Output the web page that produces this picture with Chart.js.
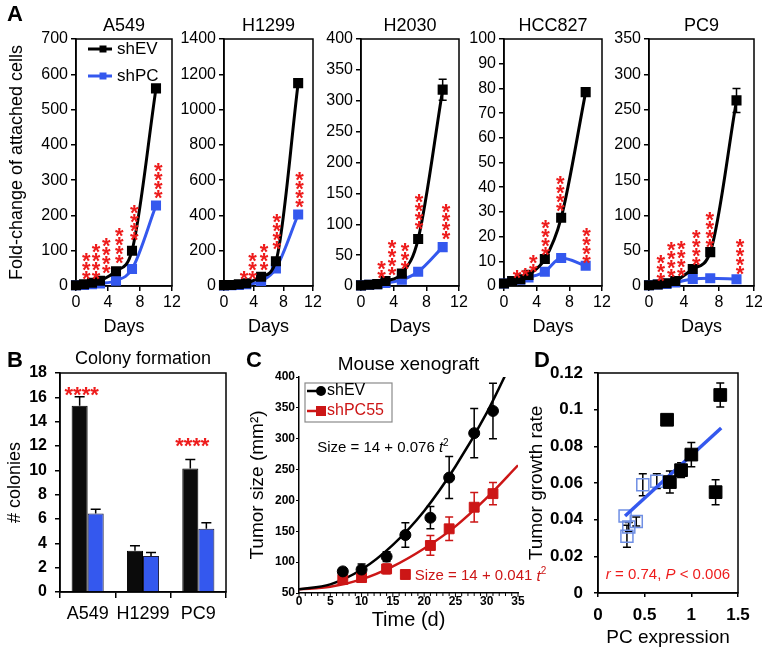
<!DOCTYPE html>
<html>
<head>
<meta charset="utf-8">
<title>PC knockdown and growth</title>
<script src="https://cdn.jsdelivr.net/npm/chart.js@4.4.1/dist/chart.umd.min.js"></script>
<style>
  html, body { margin: 0; padding: 0; background: #fff; }
  body { position: relative; width: 762px; height: 662px; overflow: hidden; font-family: "Liberation Sans", Arial, sans-serif; }
  canvas { position: absolute; }
  .tag { position: absolute; font-weight: bold; font-size: 22px; line-height: 22px; color: #000; }
</style>
</head>
<body>
<canvas id="pA549" width="185" height="340" style="left:0;top:0"></canvas>
<canvas id="pH1299" width="145" height="340" style="left:180px;top:0"></canvas>
<canvas id="pH2030" width="150" height="340" style="left:320px;top:0"></canvas>
<canvas id="pHCC827" width="150" height="340" style="left:465px;top:0"></canvas>
<canvas id="pPC9" width="152" height="340" style="left:610px;top:0"></canvas>
<canvas id="colony" width="240" height="322" style="left:0;top:340px"></canvas>
<canvas id="xeno" width="320" height="322" style="left:240px;top:340px"></canvas>
<canvas id="corr" width="242" height="322" style="left:520px;top:340px"></canvas>
<div class="tag" style="left:7px;top:3px">A</div>
<div class="tag" style="left:7px;top:349px">B</div>
<div class="tag" style="left:246px;top:349px">C</div>
<div class="tag" style="left:534px;top:349px">D</div>
<script>
// ---- panel A: growth curves (fold-change of attached cells) ----
const days = [0, 1, 2, 3, 5, 7, 10];

const a549EV = [2, 5, 9, 15, 42, 100, 560];
const a549PC = [2, 3, 5, 7, 15, 48, 228];
const a549EVErr = [0, 0, 0, 0, 0, 0, 10];
const a549PCErr = [0, 0, 0, 0, 0, 0, 5];
const a549StarX = [1.3, 2.5, 3.8, 5.4, 7.3, 10.3];
const a549StarN = [3, 4, 4, 4, 4, 4];
const a549StarBase = [37, 37, 54, 82, 147, 265];

const h1299EV = [5, 6, 10, 16, 52, 140, 1150];
const h1299PC = [3, 4, 6, 10, 28, 100, 405];
const h1299EVErr = [0, 0, 0, 0, 0, 0, 15];
const h1299PCErr = [0, 0, 0, 0, 0, 0, 10];
const h1299StarX = [2.7, 3.85, 5.4, 7.1, 10.2];
const h1299StarN = [1, 3, 3, 4, 4];
const h1299StarBase = [73, 73, 124, 243, 482];

const h2030EV = [1, 2, 3, 8, 20, 76, 318];
const h2030PC = [1, 2, 3, 5, 10, 23, 63];
const h2030EVErr = [0, 0, 0, 0, 1, 4, 17];
const h2030PCErr = [0, 0, 0, 0, 0, 2, 6];
const h2030StarX = [2.5, 3.8, 5.4, 7.1, 10.4];
const h2030StarN = [2, 4, 3, 4, 4];
const h2030StarBase = [23, 27, 37, 102, 85];

const hcc827EV = [1, 2, 2.7, 4.5, 10.9, 27.6, 78.5];
const hcc827PC = [1, 2, 2.5, 3.5, 5.8, 11.3, 8.2];
const hcc827EVErr = [0, 0, 0, 0, 0.8, 1, 1.5];
const hcc827PCErr = [0, 0, 0, 0, 0, 0.5, 0.5];
const hcc827StarX = [1.6, 2.6, 3.6, 5.1, 6.9, 10.1];
const hcc827StarN = [1, 1, 2, 4, 4, 4];
const hcc827StarBase = [5.4, 6.4, 8.2, 15, 32.7, 11.8];

const pc9EV = [1, 2, 4, 7, 24, 48, 263];
const pc9PC = [1, 2, 3, 5, 10, 11, 9.5];
const pc9EVErr = [0, 0, 0, 0, 0, 0, 17];
const pc9PCErr = [0, 0, 0, 0, 0, 0, 1];
const pc9StarX = [1.35, 2.55, 3.7, 5.4, 6.95, 10.4];
const pc9StarN = [3, 4, 4, 4, 4, 4];
const pc9StarBase = [15, 21, 22, 38, 64, 25];

// ---- panel B: colony formation ----
const colonyLines = ["A549", "H1299", "PC9"];
const colonyEV = [15.3, 3.4, 10.15];
const colonyPC = [6.45, 2.95, 5.2];
const colonyEVErr = [0.75, 0.4, 0.75];
const colonyPCErr = [0.35, 0.3, 0.5];
const colonyStarN = [4, 0, 4];
const colonyStarLevel = [16.7, 0, 12.5];

// ---- panel C: mouse xenograft ----
const xenoDays = [7, 10, 14, 17, 21, 24, 28, 31];
const xenoEV = [85, 88, 109, 144, 172, 237, 309, 345];
const xenoEVErr = [6, 9, 8, 20, 18, 34, 40, 45];
const xenoPC = [72, 75, 89, 80, 127, 154, 189, 211];
const xenoPCErr = [4, 5, 8, 5, 16, 19, 24, 18];
const fitDays = [0, 5, 10, 15, 20, 25, 30, 35];
const fitEV = [56, 64, 88, 128, 183, 255, 342, 446];
const fitPC = [56, 60, 72, 93, 122, 158, 204, 257];

// ---- panel D: growth rate vs PC expression ----
const pcHigh = [0.74, 1.31, 1.0, 0.89, 0.77, 1.26];
const rateHigh = [0.0945, 0.108, 0.0755, 0.067, 0.0605, 0.055];
const rateHighErr = [0, 0.0066, 0.0066, 0.004, 0.006, 0.0068];
const pcLow = [0.48, 0.63, 0.29, 0.41, 0.33, 0.31];
const rateLow = [0.059, 0.061, 0.042, 0.039, 0.036, 0.031];
const rateLowErr = [0.006, 0.004, 0, 0.0025, 0.0025, 0.006];
const trendX = [0.29, 1.32];
const trendY = [0.042, 0.090];

const FONT = "'Liberation Sans', Arial, Helvetica, sans-serif";
const NARROW = "'Liberation Sans Narrow', 'Liberation Sans', Arial, sans-serif";
const BLUE = "#3458ee";
const RED = "#ee1c1c";
const DARKRED = "#cc1616";

Chart.defaults.font.family = FONT;
Chart.defaults.color = "#000";

const axisLine = { color: "#000", width: 1.5 };
const tickGrid = len => ({ drawOnChartArea: false, color: "#000", lineWidth: 1.5, tickLength: len });
const xy = (xs, ys) => xs.map((x, i) => ({ x: x, y: ys[i] }));
const plain = v => String(+Number(v).toFixed(3));

// draws +/- error bars under the marks
const errorBars = {
  id: "errorBars",
  beforeDatasetsDraw(chart) {
    const ctx = chart.ctx;
    chart.data.datasets.forEach((ds, di) => {
      if (!ds.errors) return;
      const meta = chart.getDatasetMeta(di);
      const ys = chart.scales[meta.yAxisID];
      ctx.save();
      ctx.strokeStyle = ds.errorColor || "#000";
      ctx.lineWidth = ds.errorWidth || 1.5;
      meta.data.forEach((el, i) => {
        const e = ds.errors[i];
        if (!e) return;
        const raw = ds.data[i];
        const v = typeof raw === "object" ? raw.y : raw;
        const top = ys.getPixelForValue(v + e);
        const bot = ds.errorUpOnly ? el.y : ys.getPixelForValue(v - e);
        const c = ds.errorCap || 4;
        ctx.beginPath();
        ctx.moveTo(el.x, top); ctx.lineTo(el.x, bot);
        ctx.moveTo(el.x - c, top); ctx.lineTo(el.x + c, top);
        if (!ds.errorUpOnly) { ctx.moveTo(el.x - c, bot); ctx.lineTo(el.x + c, bot); }
        ctx.stroke();
      });
      ctx.restore();
    });
  }
};

// closed box round the plot area
const frame = {
  id: "frame",
  beforeDatasetsDraw(chart, args, o) {
    if (!o.on) return;
    const { ctx, chartArea: a } = chart;
    ctx.save();
    ctx.strokeStyle = "#000";
    ctx.lineWidth = 1.5;
    ctx.strokeRect(a.left, a.top, a.right - a.left, a.bottom - a.top);
    ctx.restore();
  }
};

const panelTitle = {
  id: "panelTitle",
  afterDraw(chart, args, o) {
    if (!o.text) return;
    const { ctx, chartArea: a } = chart;
    ctx.save();
    ctx.font = o.font;
    ctx.fillStyle = "#000";
    ctx.textAlign = "center";
    ctx.textBaseline = "middle";
    ctx.fillText(o.text, (a.left + a.right) / 2 + (o.dx || 0), a.top - o.dy);
    ctx.restore();
  }
};

// vertical stacks of significance asterisks
const starMarks = {
  id: "starMarks",
  afterDatasetsDraw(chart, args, o) {
    if (!o.x) return;
    const { ctx, scales } = chart;
    ctx.save();
    ctx.fillStyle = RED;
    ctx.font = "bold " + o.size + "px " + FONT;
    ctx.textAlign = "center";
    ctx.textBaseline = "alphabetic";
    o.x.forEach((xv, i) => {
      const px = scales.x.getPixelForValue(xv);
      const py = scales.y.getPixelForValue(o.base[i]);
      for (let k = 0; k < o.n[i]; k++) {
        ctx.fillText("*", px, py - k * o.gap + o.size * 0.58);
      }
    });
    ctx.restore();
  }
};

// horizontal asterisks above bars
const barStars = {
  id: "barStars",
  afterDatasetsDraw(chart, args, o) {
    if (!o.n) return;
    const { ctx, scales } = chart;
    const meta = chart.getDatasetMeta(0);
    ctx.save();
    ctx.fillStyle = RED;
    ctx.font = "bold " + o.size + "px " + FONT;
    ctx.textAlign = "center";
    ctx.textBaseline = "alphabetic";
    o.n.forEach((n, i) => {
      if (!n) return;
      const px = meta.data[i].x + 2;
      const py = scales.y.getPixelForValue(o.level[i]);
      ctx.fillText("*".repeat(n), px, py + o.size * 0.58);
    });
    ctx.restore();
  }
};

// hand-placed legend with line + marker
const lineLegend = {
  id: "lineLegend",
  afterDatasetsDraw(chart, args, o) {
    if (!o.items) return;
    const { ctx, chartArea: a } = chart;
    ctx.save();
    if (o.box) {
      ctx.strokeStyle = "#8a8a8a";
      ctx.lineWidth = 1.2;
      ctx.strokeRect(a.left + o.box[0], a.top + o.box[1], o.box[2], o.box[3]);
    }
    o.items.forEach((it, i) => {
      const y = a.top + o.y + i * o.gap;
      ctx.strokeStyle = it.color;
      ctx.fillStyle = it.color;
      ctx.lineWidth = o.lineWidth;
      ctx.beginPath();
      ctx.moveTo(a.left + o.x0, y);
      ctx.lineTo(a.left + o.x1, y);
      ctx.stroke();
      const mx = a.left + o.xm;
      ctx.beginPath();
      if (it.style === "circle") ctx.arc(mx, y, it.size / 2, 0, Math.PI * 2);
      else ctx.rect(mx - it.size / 2, y - it.size / 2, it.size, it.size);
      ctx.fill();
      ctx.font = o.font;
      ctx.textBaseline = "middle";
      ctx.textAlign = "left";
      ctx.fillStyle = it.textColor || "#000";
      ctx.fillText(it.label, a.left + o.xt, y);
    });
    ctx.restore();
  }
};

// rich text notes placed in data coordinates
const notes = {
  id: "notes",
  afterDatasetsDraw(chart, args, o) {
    if (!o.list) return;
    const { ctx, scales } = chart;
    o.list.forEach(n => {
      let px = scales.x.getPixelForValue(n.x);
      const py = scales.y.getPixelForValue(n.y);
      ctx.save();
      ctx.fillStyle = n.color;
      ctx.textBaseline = "middle";
      ctx.textAlign = "left";
      let w = 0;
      n.parts.forEach(p => { ctx.font = p.font; w += ctx.measureText(p.t).width; });
      if (n.align === "center") px -= w / 2;
      n.parts.forEach(p => {
        ctx.font = p.font;
        ctx.fillText(p.t, px, py + (p.dy || 0));
        px += ctx.measureText(p.t).width;
      });
      ctx.restore();
    });
  }
};

// minor + major tick marks along the bottom axis
const minorTicks = {
  id: "minorTicks",
  beforeDatasetsDraw(chart, args, o) {
    if (!o.step) return;
    const { ctx, chartArea: a, scales } = chart;
    const x = scales.x;
    ctx.save();
    ctx.strokeStyle = "#000";
    ctx.lineWidth = 1;
    ctx.beginPath();
    for (let v = x.min; v <= x.max + 1e-9; v += o.step) {
      const px = x.getPixelForValue(v);
      const len = Math.round(v) % o.major === 0 ? o.majorLen : o.minorLen;
      ctx.moveTo(px, a.bottom);
      ctx.lineTo(px, a.bottom + len);
    }
    ctx.stroke();
    ctx.restore();
  }
};

// ---------- panel A ----------
const topPanels = [
  { id: "pA549", name: "A549", ev: a549EV, pc: a549PC, evErr: a549EVErr, pcErr: a549PCErr, max: 700, step: 100,
    sx: a549StarX, sn: a549StarN, sb: a549StarBase, yw: 76, pr: 13, first: true },
  { id: "pH1299", name: "H1299", ev: h1299EV, pc: h1299PC, evErr: h1299EVErr, pcErr: h1299PCErr, max: 1400, step: 200,
    sx: h1299StarX, sn: h1299StarN, sb: h1299StarBase, yw: 44, pr: 12 },
  { id: "pH2030", name: "H2030", ev: h2030EV, pc: h2030PC, evErr: h2030EVErr, pcErr: h2030PCErr, max: 400, step: 50,
    sx: h2030StarX, sn: h2030StarN, sb: h2030StarBase, yw: 41, pr: 11 },
  { id: "pHCC827", name: "HCC827", ev: hcc827EV, pc: hcc827PC, evErr: hcc827EVErr, pcErr: hcc827PCErr, max: 100, step: 10,
    sx: hcc827StarX, sn: hcc827StarN, sb: hcc827StarBase, yw: 39, pr: 13 },
  { id: "pPC9", name: "PC9", ev: pc9EV, pc: pc9PC, evErr: pc9EVErr, pcErr: pc9PCErr, max: 350, step: 50,
    sx: pc9StarX, sn: pc9StarN, sb: pc9StarBase, yw: 39, pr: 4 }
];

const growthLine = {
  borderWidth: 3, pointStyle: "rect", pointRadius: 5, pointHoverRadius: 5,
  cubicInterpolationMode: "monotone", clip: false, fill: false, errorCap: 4
};

topPanels.forEach(p => {
  new Chart(document.getElementById(p.id), {
    type: "line",
    data: {
      datasets: [
        { label: "shEV", data: xy(days, p.ev), borderColor: "#000", backgroundColor: "#000", errors: p.evErr, ...growthLine },
        { label: "shPC", data: xy(days, p.pc), borderColor: BLUE, backgroundColor: BLUE, errors: p.pcErr, errorColor: "#000", ...growthLine }
      ]
    },
    options: {
      responsive: false,
      animation: false,
      events: [],
      layout: { padding: { top: 39, right: p.pr, left: 0, bottom: 0 } },
      plugins: {
        legend: { display: false },
        tooltip: { enabled: false },
        frame: { on: true },
        panelTitle: { text: p.name, font: "18px " + FONT, dy: 13 },
        starMarks: { x: p.sx, n: p.sn, base: p.sb, size: 22, gap: 9 },
        lineLegend: p.first ? {
          items: [
            { label: "shEV", color: "#000", style: "rect", size: 7 },
            { label: "shPC", color: BLUE, style: "rect", size: 7 }
          ],
          x0: 12, x1: 36, xm: 27, xt: 41, y: 10, gap: 27, lineWidth: 3, font: "17px " + FONT
        } : {}
      },
      scales: {
        x: {
          type: "linear", min: 0, max: 12,
          ticks: { stepSize: 4, font: { size: 16 }, padding: 2, maxRotation: 0, minRotation: 0, callback: plain },
          grid: tickGrid(5),
          border: axisLine,
          title: { display: true, text: "Days", font: { size: 18 }, padding: { top: 0, bottom: 2 } },
          afterFit: s => { s.height = 54; s.paddingLeft = 0; s.paddingRight = 0; }
        },
        y: {
          min: 0, max: p.max,
          ticks: { stepSize: p.step, font: { size: 16 }, padding: 3, callback: plain },
          grid: tickGrid(5),
          border: axisLine,
          title: p.first
            ? { display: true, text: "Fold-change of attached cells", font: { size: 18 }, padding: { top: 6, bottom: 0 } }
            : { display: false },
          afterFit: s => { s.width = p.yw; s.paddingTop = 0; s.paddingBottom = 0; }
        }
      }
    },
    plugins: [errorBars, frame, panelTitle, starMarks, lineLegend]
  });
});

// ---------- panel B ----------
new Chart(document.getElementById("colony"), {
  type: "bar",
  data: {
    labels: colonyLines,
    datasets: [
      { label: "shEV", data: colonyEV, backgroundColor: "#0b0b0b", borderColor: "#000", borderWidth: 1,
        errors: colonyEVErr, errorUpOnly: true, errorCap: 5, categoryPercentage: 0.58, barPercentage: 1 },
      { label: "shPC", data: colonyPC, backgroundColor: BLUE, borderColor: "#1c1c3a", borderWidth: 1,
        errors: colonyPCErr, errorUpOnly: true, errorCap: 5, categoryPercentage: 0.58, barPercentage: 1 }
    ]
  },
  options: {
    responsive: false,
    animation: false,
    events: [],
    layout: { padding: { top: 33, right: 14, left: 0, bottom: 0 } },
    plugins: {
      legend: { display: false },
      tooltip: { enabled: false },
      frame: { on: true },
      panelTitle: { text: "Colony formation", font: "18px " + FONT, dy: 14 },
      barStars: { n: colonyStarN, level: colonyStarLevel, size: 22 }
    },
    scales: {
      x: {
        ticks: { font: { size: 18 }, padding: 5, maxRotation: 0, minRotation: 0, autoSkip: false },
        grid: { offset: true, drawOnChartArea: false, color: "#000", lineWidth: 1.5, tickLength: 6 },
        border: axisLine,
        afterFit: s => { s.height = 70; s.paddingLeft = 0; s.paddingRight = 0; }
      },
      y: {
        min: 0, max: 18,
        ticks: { stepSize: 2, font: { size: 16, weight: "bold" }, padding: 8 },
        grid: tickGrid(5),
        border: axisLine,
        title: { display: true, text: "# colonies", font: { size: 18 }, padding: { top: 4, bottom: 0 } },
        afterFit: s => { s.width = 60; s.paddingTop = 0; s.paddingBottom = 0; }
      }
    }
  },
  plugins: [errorBars, frame, panelTitle, barStars]
});

// ---------- panel C ----------
const eqFont = "15px " + FONT;
const eqItalic = "italic 15px " + FONT;
const eqSup = "10px " + FONT;

new Chart(document.getElementById("xeno"), {
  type: "line",
  data: {
    datasets: [
      { label: "shEV", data: xy(xenoDays, xenoEV), showLine: false, pointStyle: "circle", pointRadius: 5.5,
        backgroundColor: "#000", borderColor: "#000", errors: xenoEVErr, errorCap: 4, errorColor: "#000" },
      { label: "shPC55", data: xy(xenoDays, xenoPC), showLine: false, pointStyle: "rect", pointRadius: 7,
        backgroundColor: DARKRED, borderColor: DARKRED, errors: xenoPCErr, errorCap: 4, errorColor: DARKRED },
      { label: "fit shEV", data: xy(fitDays, fitEV), borderColor: "#000", borderWidth: 2.5, pointRadius: 0,
        cubicInterpolationMode: "monotone", fill: false },
      { label: "fit shPC55", data: xy(fitDays, fitPC), borderColor: DARKRED, borderWidth: 2.5, pointRadius: 0,
        cubicInterpolationMode: "monotone", fill: false }
    ]
  },
  options: {
    responsive: false,
    animation: false,
    events: [],
    layout: { padding: { top: 37, right: 42, left: 0, bottom: 0 } },
    plugins: {
      legend: { display: false },
      tooltip: { enabled: false },
      panelTitle: { text: "Mouse xenograft", font: "19px " + FONT, dy: 12 },
      minorTicks: { step: 1, major: 5, minorLen: 3, majorLen: 4 },
      lineLegend: {
        box: [6, 6, 87, 39],
        items: [
          { label: "shEV", color: "#000", style: "circle", size: 10 },
          { label: "shPC55", color: DARKRED, style: "rect", size: 10, textColor: DARKRED }
        ],
        x0: 8, x1: 26, xm: 22, xt: 28, y: 14, gap: 20, lineWidth: 2.5, font: "16px " + FONT
      },
      notes: {
        list: [
          { x: 2.9, y: 285, color: "#000", parts: [
            { t: "Size = 14 + 0.076 ", font: eqFont }, { t: "t", font: eqItalic }, { t: "2", font: eqSup, dy: -5 } ] },
          { x: 18.5, y: 77, color: DARKRED, parts: [
            { t: "Size = 14 + 0.041 ", font: eqFont }, { t: "t", font: eqItalic }, { t: "2", font: eqSup, dy: -5 } ] }
        ]
      }
    },
    scales: {
      x: {
        type: "linear", min: 0, max: 35,
        ticks: { stepSize: 5, font: { size: 12, weight: "bold", family: NARROW }, padding: 1,
                 maxRotation: 0, minRotation: 0, autoSkip: false },
        grid: { drawOnChartArea: false, drawTicks: false },
        border: axisLine,
        title: { display: true, text: "Time (d)", font: { size: 20 }, padding: { top: 0, bottom: 30 } },
        afterFit: s => { s.height = 69; s.paddingLeft = 0; s.paddingRight = 0; }
      },
      y: {
        min: 50, max: 400,
        ticks: { stepSize: 50, font: { size: 12, weight: "bold", family: NARROW }, padding: 1 },
        grid: { drawOnChartArea: false, color: "#000", lineWidth: 1, tickLength: 3 },
        border: axisLine,
        title: { display: true, text: "Tumor size (mm²)", font: { size: 19 }, padding: { top: 6, bottom: 0 } },
        afterFit: s => { s.width = 59; s.paddingTop = 0; s.paddingBottom = 0; }
      }
    }
  },
  plugins: [errorBars, panelTitle, minorTicks, lineLegend, notes]
});

// ---------- panel D ----------
const rFont = "15px " + FONT;
const rItalic = "italic 15px " + FONT;

new Chart(document.getElementById("corr"), {
  type: "scatter",
  data: {
    datasets: [
      { label: "high PC", data: xy(pcHigh, rateHigh), pointStyle: "rect", pointRadius: 9,
        backgroundColor: "#000", borderColor: "#000", errors: rateHighErr, errorCap: 4, errorColor: "#000" },
      { type: "line", label: "trend", data: xy(trendX, trendY), borderColor: BLUE, borderWidth: 3.5,
        pointRadius: 0, fill: false },
      { label: "low PC", data: xy(pcLow, rateLow), pointStyle: "rect", pointRadius: 8.5,
        backgroundColor: "rgba(255,255,255,0)", borderColor: "#6f8fe4", borderWidth: 1.5,
        errors: rateLowErr, errorCap: 4, errorColor: "#000" }
    ]
  },
  options: {
    responsive: false,
    animation: false,
    events: [],
    layout: { padding: { top: 33, right: 24, left: 0, bottom: 0 } },
    plugins: {
      legend: { display: false },
      tooltip: { enabled: false },
      frame: { on: true },
      notes: {
        list: [
          { x: 0.75, y: 0.0098, color: RED, align: "center", parts: [
            { t: "r", font: rItalic }, { t: " = 0.74, ", font: rFont },
            { t: "P", font: rItalic }, { t: " < 0.006", font: rFont } ] }
        ]
      }
    },
    scales: {
      x: {
        type: "linear", min: 0, max: 1.5,
        ticks: { stepSize: 0.5, font: { size: 17, weight: "bold" }, padding: 8, callback: plain, maxRotation: 0 },
        grid: tickGrid(4),
        border: axisLine,
        title: { display: true, text: "PC expression", font: { size: 19 }, padding: { top: 0, bottom: 12.6 } },
        afterFit: s => { s.height = 69; s.paddingLeft = 0; s.paddingRight = 0; }
      },
      y: {
        min: 0, max: 0.12,
        ticks: { stepSize: 0.02, font: { size: 17, weight: "bold" }, padding: 11, callback: plain },
        grid: tickGrid(4),
        border: axisLine,
        title: { display: true, text: "Tumor growth rate", font: { size: 19 }, padding: { top: 5.6, bottom: 0 } },
        afterFit: s => { s.width = 78; s.paddingTop = 0; s.paddingBottom = 0; }
      }
    }
  },
  plugins: [errorBars, frame, notes]
});
</script>
</body>
</html>
